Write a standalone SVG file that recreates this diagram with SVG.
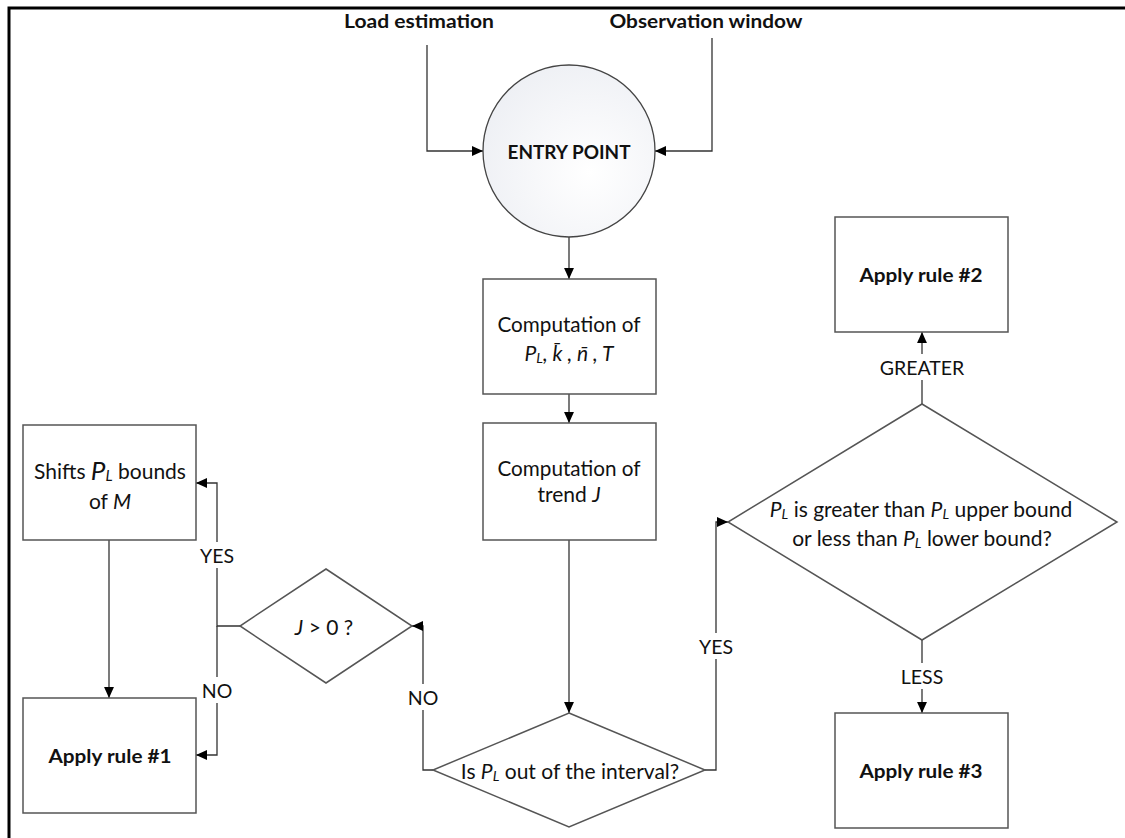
<svg xmlns="http://www.w3.org/2000/svg" width="1125" height="838" viewBox="0 0 1125 838">
<style>
  text { font-family: Lato, "Liberation Sans", sans-serif; fill: #111; dominant-baseline: central; text-anchor: middle; }
  .t { font-size: 21px; }
  .b { font-size: 19px; font-weight: bold; }
  .lbl { font-size: 19.5px; }
  .i { font-style: italic; }
  .box { fill: #fff; stroke: #555; stroke-width: 1.5; }
  .con { fill: none; stroke: #333; stroke-width: 1.3; }
  .bg { fill: #fff; }
</style>
<defs>
  <marker id="arr" viewBox="0 0 10 10" refX="10" refY="5" markerWidth="11" markerHeight="11" markerUnits="userSpaceOnUse" orient="auto">
    <path d="M0,0.5 L10,5 L0,9.5 Z" fill="#000"/>
  </marker>
  <radialGradient id="cg" cx="0.62" cy="0.62" r="0.75">
    <stop offset="0" stop-color="#ffffff"/>
    <stop offset="1" stop-color="#eceef3"/>
  </radialGradient>
</defs>
<rect width="1125" height="838" fill="#fff"/>
<path d="M9,900 V8 H1130" fill="none" stroke="#000" stroke-width="3"/>

<g id="connectors">
  <path class="con" d="M427,45 V151 H483" marker-end="url(#arr)"/>
  <path class="con" d="M712,38 V151 H655" marker-end="url(#arr)"/>
  <path class="con" d="M569,237 V279" marker-end="url(#arr)"/>
  <path class="con" d="M569,394 V423" marker-end="url(#arr)"/>
  <path class="con" d="M569,540 V713" marker-end="url(#arr)"/>
  <path class="con" d="M433,770 H423 V626 H412" marker-end="url(#arr)"/>
  <path class="con" d="M705,770 H716 V522 H728" marker-end="url(#arr)"/>
  <path class="con" d="M240,626 H217 V483 H196" marker-end="url(#arr)"/>
  <path class="con" d="M217,626 V755 H196" marker-end="url(#arr)"/>
  <path class="con" d="M109,540 V698" marker-end="url(#arr)"/>
  <path class="con" d="M922,404 V332" marker-end="url(#arr)"/>
  <path class="con" d="M922,640 V713" marker-end="url(#arr)"/>
  <rect class="bg" x="400" y="684" width="46" height="26"/>
  <text class="lbl" x="423" y="697">NO</text>
  <rect class="bg" x="696" y="633" width="40" height="26"/>
  <text class="lbl" x="716" y="646">YES</text>
  <rect class="bg" x="197" y="542" width="40" height="26"/>
  <text class="lbl" x="217" y="555">YES</text>
  <rect class="bg" x="197" y="677" width="40" height="26"/>
  <text class="lbl" x="217" y="690">NO</text>
  <rect class="bg" x="876" y="354" width="92" height="26"/>
  <text class="lbl" x="922" y="367">GREATER</text>
  <rect class="bg" x="898" y="663" width="48" height="26"/>
  <text class="lbl" x="922" y="676">LESS</text>
</g>

<g id="load-estimation">
  <text class="b" x="419" y="20" textLength="150" lengthAdjust="spacingAndGlyphs">Load estimation</text>
</g>
<g id="observation-window">
  <text class="b" x="706" y="20" textLength="193" lengthAdjust="spacingAndGlyphs">Observation window</text>
</g>

<g id="entry-point">
  <circle cx="569" cy="151" r="86" fill="url(#cg)" stroke="#444" stroke-width="1.3"/>
  <text class="b" x="569" y="151" textLength="123" lengthAdjust="spacingAndGlyphs">ENTRY POINT</text>
</g>

<g id="computation-1">
  <rect class="box" x="483" y="279" width="173" height="115"/>
  <text class="t" x="569" y="323" textLength="143" lengthAdjust="spacingAndGlyphs">Computation of</text>
  <text class="t i" x="569" y="352"><tspan>P</tspan><tspan font-size="14" dy="5">L</tspan><tspan dy="-5">, k̄ , n̄ , T</tspan></text>
</g>

<g id="computation-2">
  <rect class="box" x="483" y="423" width="173" height="117"/>
  <text class="t" x="569" y="467" textLength="143" lengthAdjust="spacingAndGlyphs">Computation of</text>
  <text class="t" x="569" y="493">trend <tspan class="i">J</tspan></text>
</g>

<g id="is-out-of-interval">
  <polygon class="box" points="569,713 705,770 569,827 433,770"/>
  <text class="t" x="570" y="770">Is <tspan class="i">P</tspan><tspan class="i" font-size="14" dy="5">L</tspan><tspan dy="-5"> out of the interval?</tspan></text>
</g>

<g id="j-greater-zero">
  <polygon class="box" points="326,569 412,626 326,683 240,626"/>
  <text class="t" x="324" y="626"><tspan class="i">J</tspan> &gt; 0 ?</text>
</g>

<g id="shifts-bounds">
  <rect class="box" x="23" y="425" width="173" height="115"/>
  <text class="t" x="110" y="470">Shifts <tspan class="i" font-size="26">P</tspan><tspan class="i" font-size="15" dy="5">L</tspan><tspan dy="-5"> bounds</tspan></text>
  <text class="t" x="110" y="500">of <tspan class="i">M</tspan></text>
</g>

<g id="apply-rule-1">
  <rect class="box" x="23" y="698" width="173" height="115"/>
  <text class="b" x="110" y="755" textLength="123" lengthAdjust="spacingAndGlyphs">Apply rule #1</text>
</g>

<g id="greater-or-less">
  <polygon class="box" points="922,404 1117,522 922,640 728,522"/>
  <text class="t" x="921" y="508"><tspan class="i">P</tspan><tspan class="i" font-size="14" dy="5">L</tspan><tspan dy="-5"> is greater than </tspan><tspan class="i">P</tspan><tspan class="i" font-size="14" dy="5">L</tspan><tspan dy="-5"> upper bound</tspan></text>
  <text class="t" x="922" y="537">or less than <tspan class="i">P</tspan><tspan class="i" font-size="14" dy="5">L</tspan><tspan dy="-5"> lower bound?</tspan></text>
</g>

<g id="apply-rule-2">
  <rect class="box" x="835" y="217" width="173" height="115"/>
  <text class="b" x="921" y="274" textLength="123" lengthAdjust="spacingAndGlyphs">Apply rule #2</text>
</g>

<g id="apply-rule-3">
  <rect class="box" x="835" y="713" width="173" height="115"/>
  <text class="b" x="921" y="770" textLength="123" lengthAdjust="spacingAndGlyphs">Apply rule #3</text>
</g>
</svg>
